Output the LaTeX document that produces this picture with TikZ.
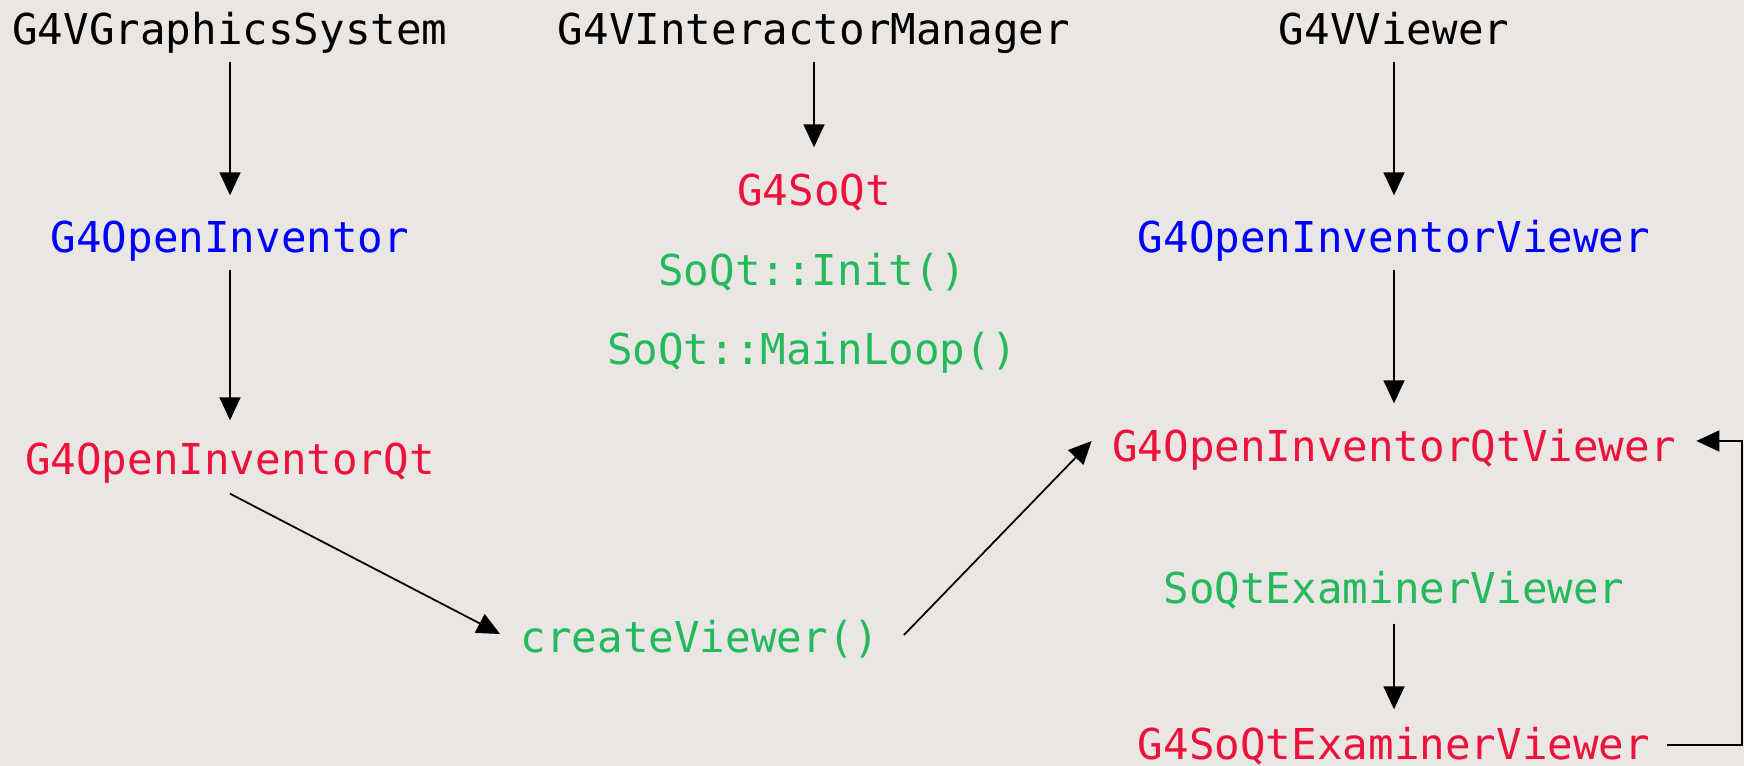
\documentclass[tikz,border=0pt]{standalone}
\usepackage{fontspec}
\setmonofont{DejaVu Sans Mono}
\usetikzlibrary{arrows.meta}

\definecolor{bgcol}{RGB}{233,230,227}
\definecolor{qtred}{RGB}{236,18,60}
\definecolor{ivblue}{RGB}{0,0,255}
\definecolor{soqtgreen}{RGB}{36,186,92}

\begin{document}
\begin{tikzpicture}[
		cls/.style={inner sep=0pt, anchor=base, text height=0.3cm, text depth=0.1cm, font=\ttfamily\fontsize{12.1}{14}\selectfont},
		arr/.style={-{Triangle[length=2.3mm,width=2.1mm]}, line width=0.5pt}]
		\fill[bgcol] (0,0) rectangle (17.44,7.66);
		\useasboundingbox (0,0) rectangle (17.44,7.66);
		% base classes
		\node[cls] (gs) at (2.30,7.21) {G4VGraphicsSystem};
		\node[cls] (im) at (8.14,7.21) {G4VInteractorManager};
		\node[cls] (vv) at (13.94,7.21) {G4VViewer};
		% open inventor layer
		\node[cls, ivblue] (oi) at (2.30,5.13) {G4OpenInventor};
		\node[cls, ivblue] (oiv) at (13.94,5.13) {G4OpenInventorViewer};
		\node[cls, qtred] (soqt) at (8.14,5.60) {G4SoQt};
		\node[cls, soqtgreen] (init) at (8.12,4.80) {SoQt::Init()};
		\node[cls, soqtgreen] (loop) at (8.12,4.01) {SoQt::MainLoop()};
		% qt driver
		\node[cls, qtred] (oiqt) at (2.30,2.91) {G4OpenInventorQt};
		\node[cls, qtred] (oiqtv) at (13.94,3.04) {G4OpenInventorQtViewer};
		\node[cls, soqtgreen] (create) at (7.00,1.13) {createViewer()};
		\node[cls, soqtgreen] (sqev) at (13.94,1.62) {SoQtExaminerViewer};
		\node[cls, qtred] (gsqev) at (13.94,0.06) {G4SoQtExaminerViewer};

		\draw[arr, shorten <=0.06cm, shorten >=0.27cm] (gs.south) -- (oi.north);
		\draw[arr, shorten <=0.06cm, shorten >=0.24cm] (oi.south) -- (oiqt.north);
		\draw[arr, shorten <=0.06cm, shorten >=0.28cm] (im.south) -- (soqt.north);
		\draw[arr, shorten <=0.06cm, shorten >=0.27cm] (vv.south) -- (oiv.north);
		\draw[arr, shorten <=0.06cm, shorten >=0.28cm] (oiv.south) -- (oiqtv.north);
		\draw[arr, shorten <=0.09cm, shorten >=0.20cm] (sqev.south) -- (gsqev.north);
		\draw[arr] ([shift={(0,-0.08)}]oiqt.south) -- ([shift={(-0.20,0.09)}]create.west);
		\draw[arr] ([shift={(0.24,0.08)}]create.east) -- ([shift={(-0.20,0.11)}]oiqtv.west);
		\draw[arr] ([shift={(0.16,0.05)}]gsqev.east) -- ++(0.755,0) |- ([shift={(0.20,0.11)}]oiqtv.east);
	\end{tikzpicture}
\end{document}
